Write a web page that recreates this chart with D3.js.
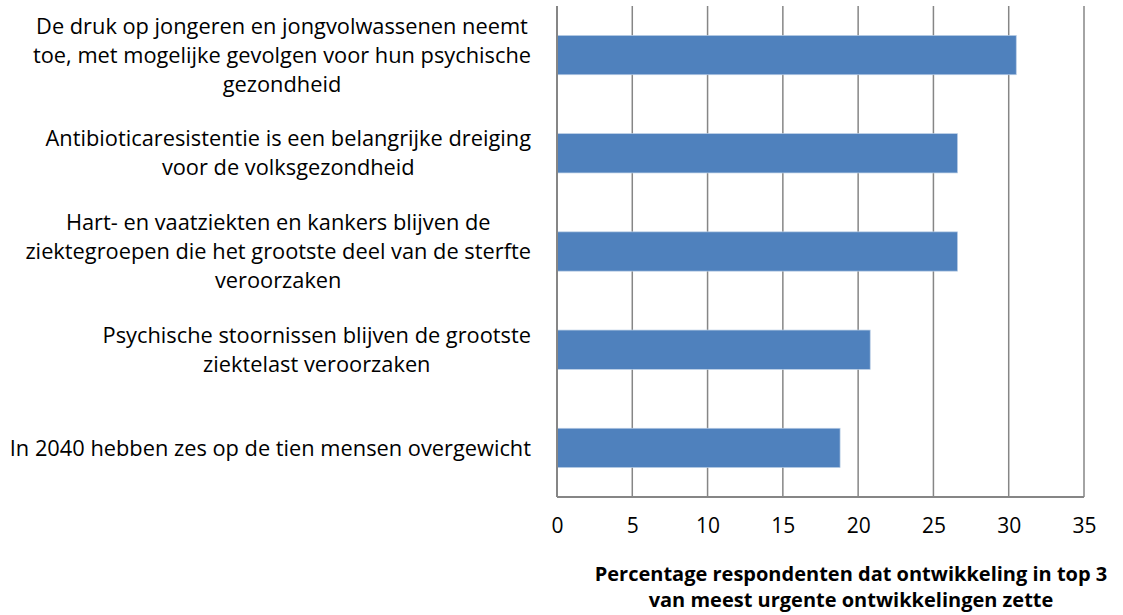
<!DOCTYPE html>
<html lang="nl">
<head>
<meta charset="utf-8" />
<title>Urgente ontwikkelingen</title>
<script src="https://d3js.org/d3.v7.min.js"></script>
<style>
    body, html { margin: 0; padding: 0; background: #fff; overflow: hidden; }
    svg text { font-family: "Open Sans", "Noto Sans", sans-serif; fill: #000; }
</style>
</head>
<body>
<div id="chart"></div>
<script>
// categorieën (van boven naar beneden), elk label in regels opgesplitst
const categories = [
    ["De druk op jongeren en jongvolwassenen neemt", "toe, met mogelijke gevolgen voor hun psychische", "gezondheid"],
    ["Antibioticaresistentie is een belangrijke dreiging", "voor de volksgezondheid"],
    ["Hart- en vaatziekten en kankers blijven de", "ziektegroepen die het grootste deel van de sterfte", "veroorzaken"],
    ["Psychische stoornissen blijven de grootste", "ziektelast veroorzaken"],
    ["In 2040 hebben zes op de tien mensen overgewicht"]
];
const values = [30.5, 26.6, 26.6, 20.8, 18.8];
const xTicks = [0, 5, 10, 15, 20, 25, 30, 35];
const axisTitle = ["Percentage respondenten dat ontwikkeling in top 3", "van meest urgente ontwikkelingen zette"];

const W = 1123, H = 615;
const plot = { left: 557, right: 1084, top: 6, bottom: 497 };
const gridColor = "#868686";
const barColor = "#4F81BD";

const svg = d3.select("#chart").append("svg")
    .attr("width", W)
    .attr("height", H);

const x = d3.scaleLinear().domain([0, 35]).range([plot.left, plot.right]);
const y = d3.scaleBand()
    .domain(d3.range(categories.length))
    .range([plot.top, plot.bottom])
    .paddingInner(0.6)
    .paddingOuter(0.3);

// verticale rasterlijnen
svg.append("g")
    .selectAll("line")
    .data(xTicks)
    .enter().append("line")
    .attr("x1", d => x(d)).attr("x2", d => x(d))
    .attr("y1", plot.top).attr("y2", plot.bottom)
    .attr("stroke", gridColor)
    .attr("stroke-width", 1.5);

// balken
svg.append("g")
    .selectAll("rect")
    .data(values)
    .enter().append("rect")
    .attr("x", x(0))
    .attr("y", (d, i) => y(i))
    .attr("width", d => x(d) - x(0))
    .attr("height", y.bandwidth())
    .attr("fill", barColor)
    .attr("stroke", "#b9cde5")
    .attr("stroke-width", 0.7);

// assen
svg.append("line")
    .attr("x1", x(0)).attr("x2", x(35))
    .attr("y1", plot.bottom).attr("y2", plot.bottom)
    .attr("stroke", gridColor).attr("stroke-width", 2);
svg.append("line")
    .attr("x1", x(0)).attr("x2", x(0))
    .attr("y1", plot.top).attr("y2", plot.bottom)
    .attr("stroke", gridColor).attr("stroke-width", 2);

// x-as met d3.axisBottom, alleen labels
const xAxis = svg.append("g")
    .attr("transform", `translate(0,${plot.bottom + 21})`)
    .call(d3.axisBottom(x).tickValues(xTicks).tickSize(0).tickPadding(0));
xAxis.select(".domain").remove();
xAxis.selectAll("text")
    .style("font-family", '"Open Sans", sans-serif')
    .style("font-size", "21px")
    .attr("fill", "#000");

// categorielabels: blok rechts uitgelijnd, regels gecentreerd
const labelRight = 531;
const lineH = 29;
const labels = svg.append("g").attr("font-size", "21.8px");
categories.forEach((lines, i) => {
    const cy = y(i) + y.bandwidth() / 2;
    const g = labels.append("g");
    const texts = g.selectAll("text")
        .data(lines)
        .enter().append("text")
        .attr("text-anchor", "middle")
        .attr("dy", "0.35em")
        .attr("y", (d, j) => cy + (j - (lines.length - 1) / 2) * lineH)
        .text(d => d);
    let maxW = 0;
    texts.each(function () { maxW = Math.max(maxW, this.getComputedTextLength()); });
    texts.attr("x", labelRight - maxW / 2);
});

// astitel
svg.append("g")
    .selectAll("text")
    .data(axisTitle)
    .enter().append("text")
    .attr("x", 851)
    .attr("y", (d, i) => 574 + i * 26)
    .attr("dy", "0.35em")
    .attr("text-anchor", "middle")
    .attr("font-weight", "bold")
    .attr("font-size", "20px")
    .text(d => d);
</script>
</body>
</html>
